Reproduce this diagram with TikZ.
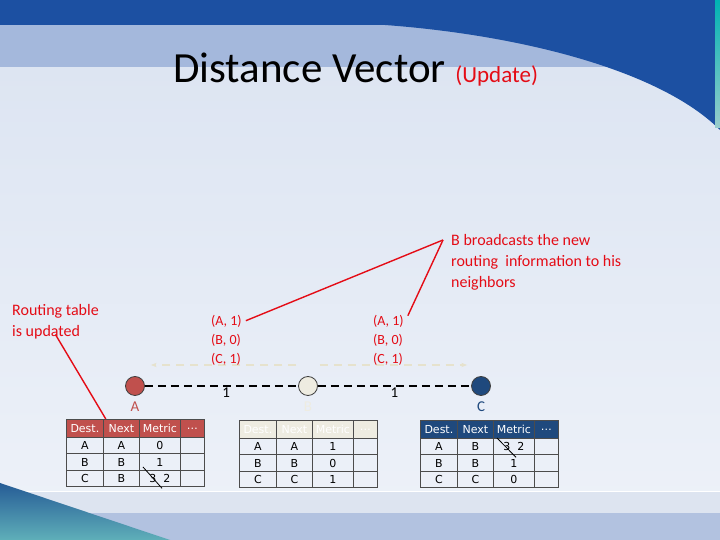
\documentclass[tikz,border=0pt]{standalone}
\usepackage{fontspec}
\setmainfont{Carlito}
\newfontfamily\tabfont{DejaVu Sans}
\usepackage{tikz}
\usetikzlibrary{arrows.meta,positioning,calc}
\definecolor{hdrA}{RGB}{192,80,77}
\definecolor{hdrB}{RGB}{238,236,225}
\definecolor{hdrC}{RGB}{31,73,125}
\definecolor{noteR}{RGB}{228,12,22}
\definecolor{bandD}{RGB}{28,80,162}
\definecolor{bandM}{RGB}{164,184,220}
\definecolor{bandL}{RGB}{221,228,240}
\definecolor{bandF}{RGB}{178,194,224}
\definecolor{wedgeT}{RGB}{38,92,150}
\definecolor{wedgeB}{RGB}{95,175,185}
\definecolor{paperT}{RGB}{221,229,242}
\definecolor{paperB}{RGB}{238,242,249}
\definecolor{hintC}{RGB}{230,226,205}
\newcommand{\fsz}[2]{\fontsize{#1}{#2}\selectfont}
% one routing table: name (= its top-left coordinate), header colour, rows
\newcommand{\rtable}[3]{%
  \foreach \h/\cx/\cw [count=\j] in {Dest./0/37,Next/37/36,Metric/73/41,{…}/114/24}
    \node[hcell, fill=#2, minimum width=\cw pt] (#1-h\j) at ($(#1)+(\cx,0)$) {\h};
  \foreach \d/\n/\m [count=\i] in {#3}
    \foreach \t/\cx/\cw [count=\j] in {\d/0/37,\n/37/36,\m/73/41,{}/114/24}
      \node[cell, minimum width=\cw pt] (#1-\i-\j) at ($(#1)+(\cx,{-18-(\i-1)*16.5})$) {\t};
}

\begin{document}
\begin{tikzpicture}[x=1pt, y=1pt, >={Stealth[length=2mm]},
  router/.style={circle, draw=black!75, thick, minimum size=19pt, inner sep=0pt},
  link/.style={line width=1.6pt, dash pattern=on 8pt off 5pt},
  hint/.style={->, draw=hintC, line width=1.2pt, dash pattern=on 8pt off 6pt},
  callout/.style={draw=noteR, line width=1.4pt},
  note/.style={text=noteR, align=left, anchor=west, inner sep=1pt, font=\fsz{16}{21}},
  vec/.style={text=noteR, align=left, anchor=west, inner sep=1pt, font=\fsz{14}{19}},
  hcell/.style={rectangle, draw=black!70, line width=0.8pt, anchor=north west,
                minimum height=18pt, inner sep=0pt, text=white, font=\tabfont\fsz{11}{11}},
  cell/.style={rectangle, draw=black!70, line width=0.8pt, anchor=north west,
               minimum height=16.5pt, inner sep=0pt, font=\tabfont\fsz{11}{11}}]
  \useasboundingbox (0,0) rectangle (720,540);
  % slide background
  \shade[top color=paperT, bottom color=paperB] (0,0) rectangle (720,473);
  \fill[bandM] (0,473) rectangle (720,515);
  \fill[bandD] (0,515) -- (385,515) .. controls (520,505) and (660,470) .. (720,410)
    -- (720,540) -- (0,540) -- cycle;
  \shade[top color=teal!60!cyan, bottom color=teal!40] (715,412) rectangle (720,540);
  \fill[bandL] (0,27) rectangle (720,49);
  \fill[bandF] (0,0) rectangle (720,27);
  \draw[white, line width=0.8pt] (0,49) -- (720,49);
  \shade[top color=wedgeT, bottom color=wedgeB] (0,57) -- (170,0) -- (0,0) -- cycle;

  % title
  \node[anchor=base west, inner sep=0pt] (title) at (173,457)
    {\fsz{43}{46}Distance Vector \textcolor{noteR}{\fsz{23}{25}(Update)}};

  % routers and links
  \node[router, fill=hdrA] (A) at (135,154) {};
  \node[router, fill=hdrB] (B) at (308,154) {};
  \node[router, fill=hdrC] (C) at (481,154) {};
  \node[below=2pt of A, text=hdrA, font=\fsz{15}{15}] (lA) {A};
  \node[below=2pt of B, text=hdrB, font=\fsz{15}{15}] (lB) {B};
  \node[below=2pt of C, text=hdrC, font=\fsz{15}{15}] (lC) {C};
  \draw[link] (A) -- node[below, pos=0.53, inner sep=1pt, font=\fsz{15}{15}] (w1) {1} (B);
  \draw[link] (B) -- node[below, pos=0.5, inner sep=1pt, font=\fsz{15}{15}] (w2) {1} (C);
  \draw[hint] ([xshift=-2pt,yshift=21pt]B.west) -- ([xshift=6pt,yshift=21pt]A.east);
  \draw[hint] ([xshift=2pt,yshift=21pt]B.east) -- ([xshift=-4pt,yshift=21pt]C.west);

  % routing tables
  \coordinate (tA) at (66,121);
  \coordinate (tB) at (239,120);
  \coordinate (tC) at (420,120);
  \rtable{tA}{hdrA}{A/A/0,B/B/1,C/B/{3\ \ 2}}
  \rtable{tB}{hdrB}{A/A/1,B/B/0,C/C/1}
  \rtable{tC}{hdrC}{A/B/{3\ \ 2},B/B/1,C/C/0}
  \draw[line width=0.8pt] ([xshift=4pt,yshift=3pt]tA-3-3.north west) -- ([xshift=23pt,yshift=-1pt]tA-3-3.south west);
  \draw[line width=0.8pt] ([xshift=4pt]tC-1-3.north west) -- ([xshift=23pt,yshift=-2pt]tC-1-3.south west);

  % advertised vectors and notes
  \node[vec] (vL) at (210,200) {(A, 1)\\(B, 0)\\(C, 1)};
  \node[vec] (vR) at (372,200) {(A, 1)\\(B, 0)\\(C, 1)};
  \node[note] (bcast) at (450,278) {B broadcasts the new\\routing\ \ information to his\\neighbors};
  \node[note] (upd) at (11,218) {Routing table\\is updated};
  \coordinate (apex) at (443,300);
  \draw[callout] (apex) -- ([xshift=3pt,yshift=-7pt]vL.north east);
  \draw[callout] (apex) -- ([xshift=3pt,yshift=-2pt]vR.north east);
  \draw[callout] ([yshift=6pt]upd.south) -- ([xshift=2pt]tA-h1.north east);
\end{tikzpicture}
\end{document}
